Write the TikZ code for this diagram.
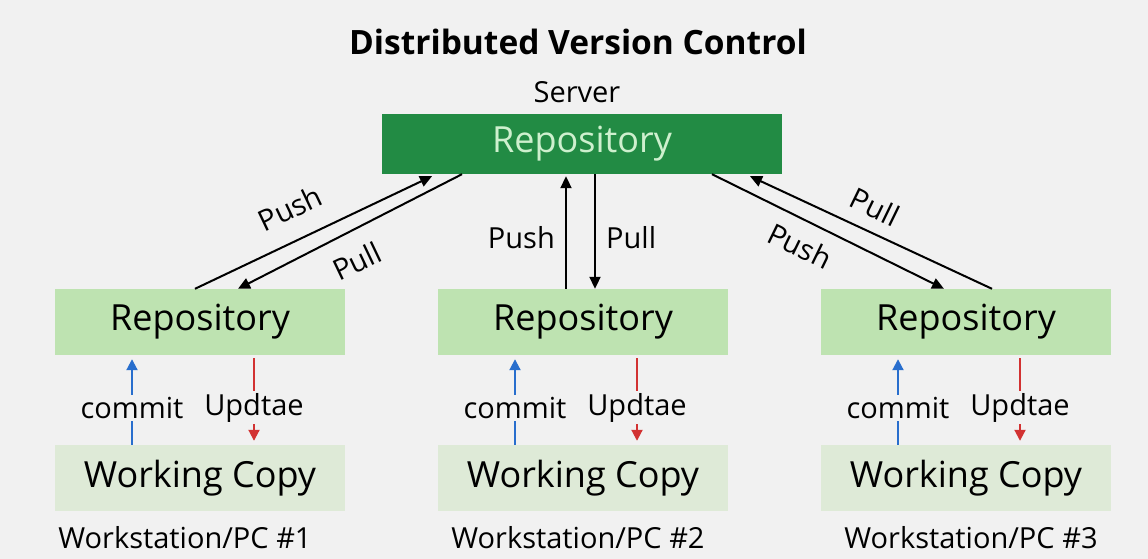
\documentclass[tikz,border=0pt]{standalone}
\usepackage{fontspec}
\setmainfont{Open Sans}
\usepackage{tikz}
\usetikzlibrary{arrows.meta}
\definecolor{bggray}{RGB}{241,241,241}
\definecolor{srvgreen}{RGB}{34,139,68}
\definecolor{srvtext}{RGB}{206,240,206}
\definecolor{repogreen}{RGB}{190,227,177}
\definecolor{wcgreen}{RGB}{222,234,215}
\definecolor{commitblue}{RGB}{40,110,205}
\definecolor{updred}{RGB}{210,50,50}
\tikzset{
  font={\fontsize{29pt}{33}\selectfont}}

\begin{document}
\begin{tikzpicture}[x=1pt,y=1pt]
\tikzstyle{every node}+=[inner sep=0pt]
\tikzstyle{box}=[minimum width=290pt, minimum height=66pt, font={\fontsize{36pt}{40}\selectfont}]
\tikzstyle{repo}=[box, fill=repogreen]
\tikzstyle{wcopy}=[box, fill=wcgreen]
\tikzstyle{link}=[black, line width=2pt, -{Triangle[length=12pt,width=11pt]}]
\tikzstyle{local}=[line width=2pt, -{Triangle[length=11pt,width=11pt]}]
\tikzstyle{gap}=[fill=bggray, inner sep=2pt]
\fill [bggray] (0,0) rectangle (1148,-559);
\useasboundingbox (0,0) rectangle (1148,-559);
\node (title) at (578,-42) {\fontsize{33.5pt}{38}\selectfont\bfseries Distributed Version Control};
\node (srvlabel) at (577,-92) {Server};
\node [box, fill=srvgreen, text=srvtext, minimum width=400pt, minimum height=60pt] (server) at (582,-144) {Repository};
% workstations
\foreach \n/\x/\lx in {A/200/185,B/583/578,C/966/971} {
  \node [repo] (repo\n) at (\x,-322) {Repository};
  \node [wcopy] (wc\n) at (\x,-478) {Working Copy};
  \node (pc\n) at (\lx,-538) {};
  \draw [local, commitblue] ([xshift=-68pt]wc\n.north) -- node [gap, text=black, pos=0.43] {commit} ([xshift=-68pt,yshift=-4pt]repo\n.south);
  \draw [local, updred] ([xshift=54pt,yshift=-3pt]repo\n.south) -- node [gap, text=black, pos=0.6] {Updtae} ([xshift=54pt,yshift=4pt]wc\n.north);
}
\node at (pcA) {Workstation/PC \#1};
\node at (pcB) {Workstation/PC \#2};
\node at (pcC) {Workstation/PC \#3};
% server links
\draw [link] ([xshift=-5pt]repoA.north) -- ([xshift=-150pt,yshift=-2pt]server.south);
\draw [link] ([xshift=-120pt]server.south) -- ([xshift=38pt]repoA.north);
\draw [link] ([xshift=-17pt]repoB.north) -- ([xshift=-16pt,yshift=-2pt]server.south);
\draw [link] ([xshift=13pt]server.south) -- ([xshift=12pt]repoB.north);
\draw [link] ([xshift=130pt]server.south) -- ([xshift=-22pt]repoC.north);
\draw [link] ([xshift=26pt]repoC.north) -- ([xshift=168pt,yshift=-2pt]server.south);
\node [rotate=25.5] (pushA) at (290,-208) {Push};
\node [rotate=25.5] (pullA) at (357,-261) {Pull};
\node [left] (pushB) at (555,-238) {Push};
\node [right] (pullB) at (606,-238) {Pull};
\node [rotate=-26] (pullC) at (875,-207) {Pull};
\node [rotate=-26] (pushC) at (800,-246) {Push};
\end{tikzpicture}
\end{document}
